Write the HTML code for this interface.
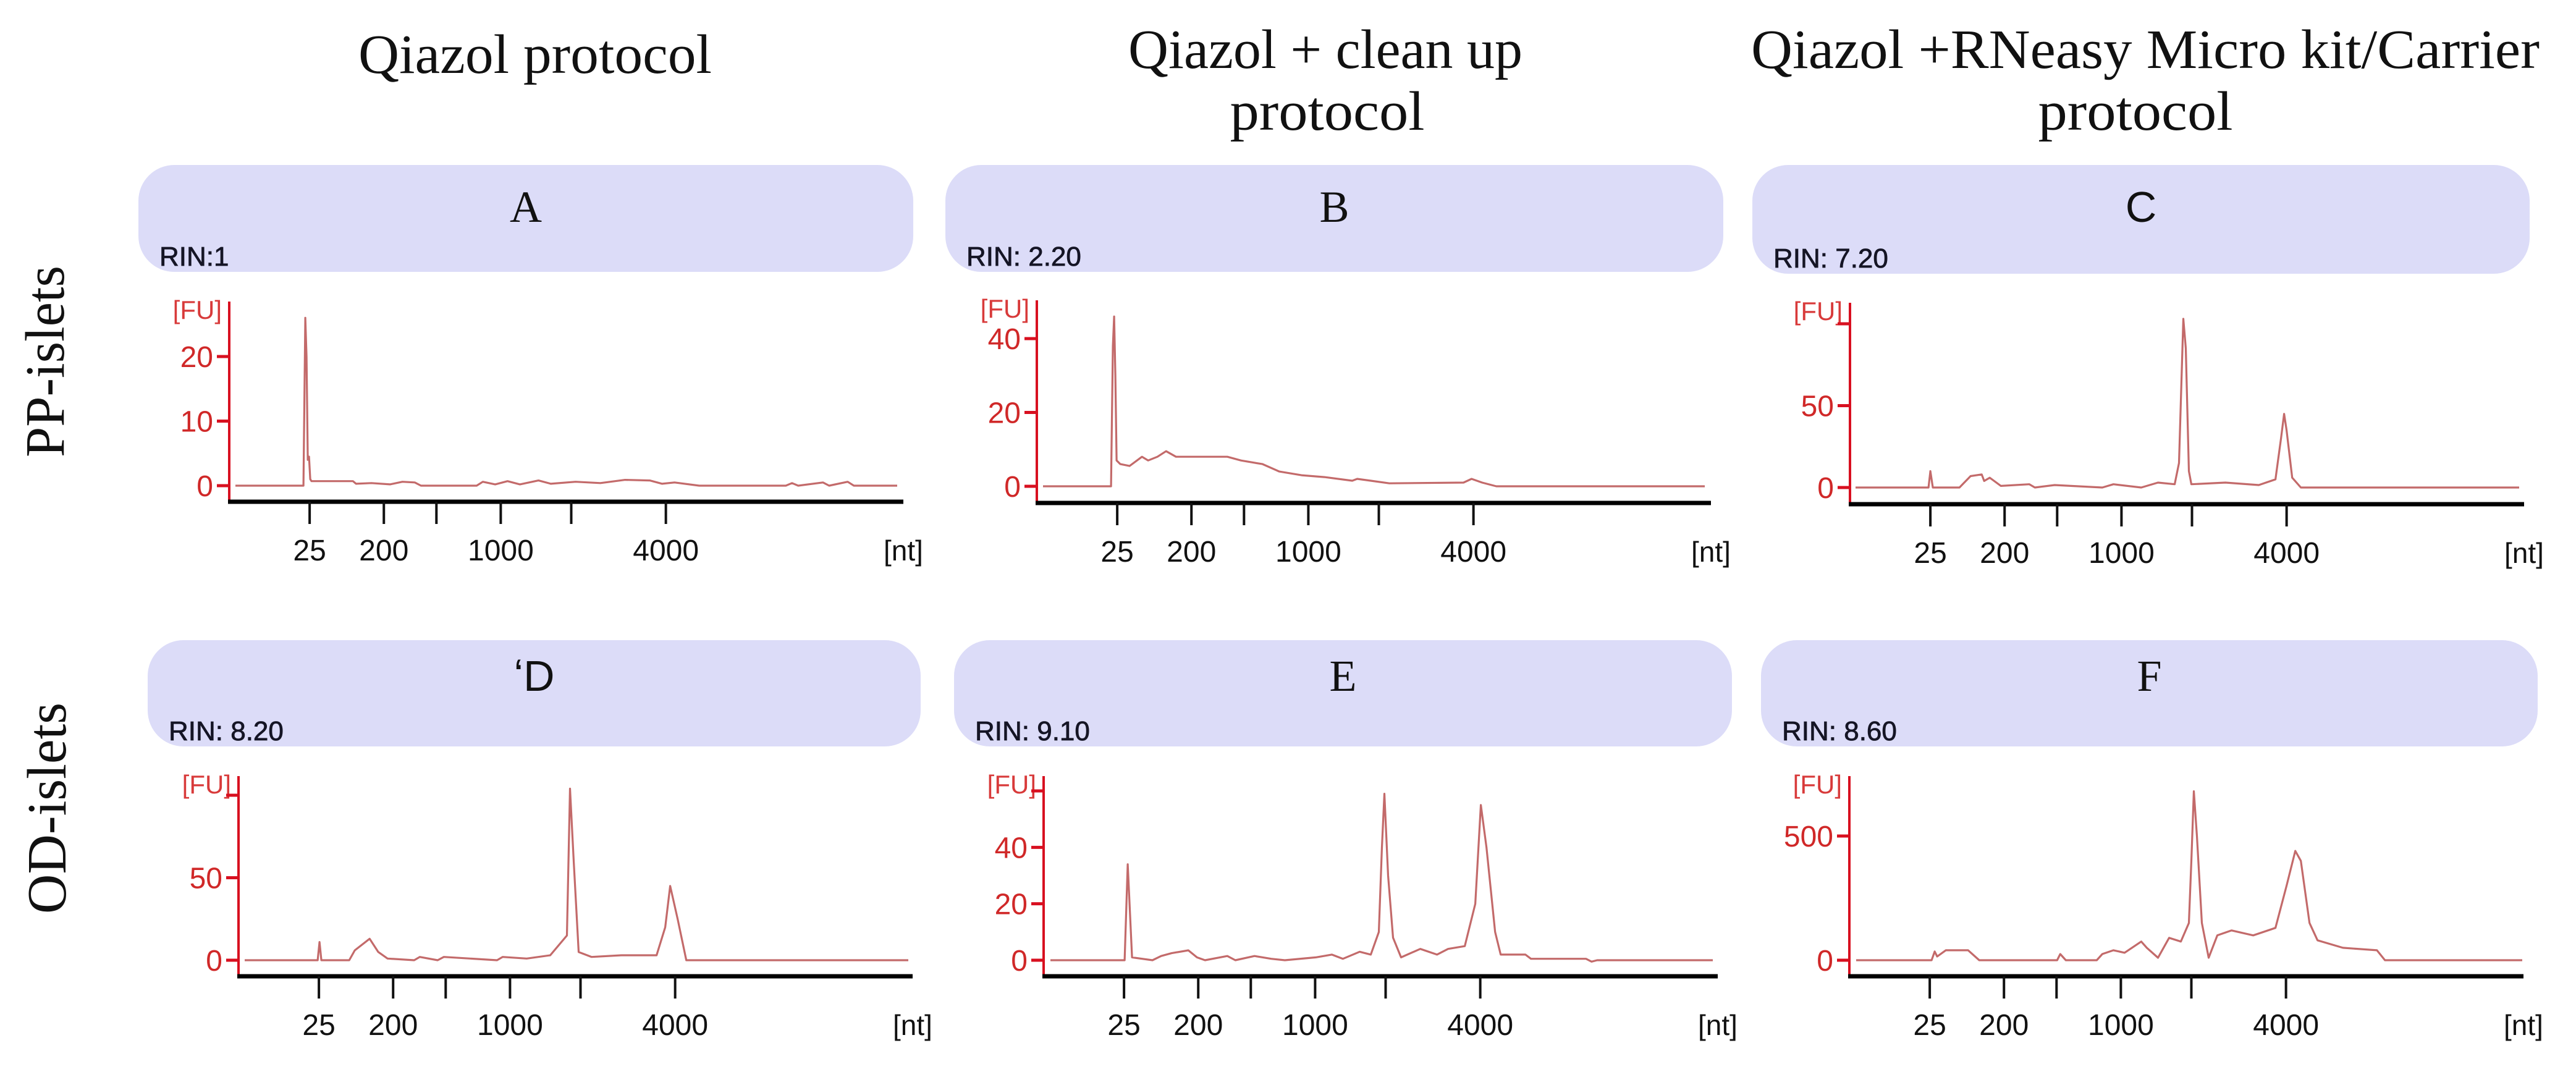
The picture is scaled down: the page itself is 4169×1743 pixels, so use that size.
<!DOCTYPE html>
<html><head><meta charset="utf-8"><style>
html,body{margin:0;padding:0;background:#fff;}
svg{display:block;}
</style></head><body>
<svg id="fig" width="4169" height="1743" viewBox="0 0 4169 1743" xmlns="http://www.w3.org/2000/svg">
<rect x="0" y="0" width="4169" height="1743" fill="#fff"/>
<g font-family="'Liberation Serif', serif" fill="#111">
<text x="866" y="118" font-size="90" text-anchor="middle" textLength="572" lengthAdjust="spacingAndGlyphs">Qiazol protocol</text>
<text x="2145" y="110" font-size="90" text-anchor="middle" textLength="638" lengthAdjust="spacingAndGlyphs">Qiazol + clean up</text>
<text x="2148" y="210" font-size="90" text-anchor="middle" textLength="315" lengthAdjust="spacingAndGlyphs">protocol</text>
<text x="3472" y="110" font-size="90" text-anchor="middle" textLength="1276" lengthAdjust="spacingAndGlyphs">Qiazol +RNeasy Micro kit/Carrier</text>
<text x="3456" y="210" font-size="90" text-anchor="middle" textLength="315" lengthAdjust="spacingAndGlyphs">protocol</text>
<text transform="translate(103,585) rotate(-90)" font-size="90" text-anchor="middle" textLength="310" lengthAdjust="spacingAndGlyphs">PP-islets</text>
<text transform="translate(106,1308) rotate(-90)" font-size="90" text-anchor="middle" textLength="342" lengthAdjust="spacingAndGlyphs">OD-islets</text>
</g>
<g id="panels"></g>
</svg>
<script>
// shared x-axis (ladder) data
const xTickNt = ['25','200','','1000','','4000'];
const xTickTime = [33, 45, 53.5, 63.9, 75.3, 90.6];
const xDomain = [20, 129];

// Panel A
const timesA = [21,32,32.3,32.5,32.7,32.9,33.1,33.3,40,40.5,43,46,48,50,51,60,61,63,65,67,70,72,76,80,84,88,90,92,96,110,111,112,116,117,120,121,128];
const fuA = [0,0,26,20,4,4.5,1,0.7,0.7,0.3,0.4,0.2,0.6,0.5,0,0,0.6,0.2,0.7,0.2,0.8,0.3,0.6,0.4,0.9,0.8,0.3,0.5,0,0,0.4,0,0.5,0,0.6,0,0];
const yTicksA = [0,10,20];
const yLabelsA = ['0','10','20'];
// Panel B
const timesB = [21,32,32.3,32.5,32.7,32.9,33.5,35,37,38,39.5,40.9,42.5,50.8,53,56.5,59.2,62.8,66.5,71,71.8,74,77,89,90.3,92,94.3,128];
const fuB = [0,0,38,46,30,7,6,5.5,8,7,8,9.5,8,8,7,6,4,3,2.5,1.5,2,1.5,0.8,1,2,1,0,0];
const yTicksB = [0,20,40];
const yLabelsB = ['0','20','40'];
// Panel C
const timesC = [20.9,32.7,33,33.4,37.7,39.5,41.3,41.7,42.6,44.4,49,49.9,53.1,60.8,62.6,67.1,69.8,72.5,73.2,73.9,74.3,74.8,75.2,80.7,86.1,88.8,89.7,90.2,90.6,91.5,92.9,128.2];
const fuC = [0,0,10,0,0,7,8,4,6,1,2,0,1.5,0,2,0,3,2,15,103,85,10,2,3,1.5,5,30,45,35,6,0,0];
const yTicksC = [0,50,100];
const yLabelsC = ['0','50',''];
// Panel D
const timesD = [21,32.8,33.1,33.4,37.9,38.8,41.2,42.6,44.1,48.4,49.3,52.2,53.2,61.8,62.7,66.6,70.4,73.1,73.6,74.2,75,77.1,81.9,87.6,89,89.8,91,92.4,128.3];
const fuD = [0,0,11,0,0,6,13,5,1,0,2,0,2,0,2,1,3,15,104,60,5,2,3,3,20,45,25,0,0];
const yTicksD = [0,50,100];
const yLabelsD = ['0','50',''];
// Panel E
const timesE = [21.1,33.1,33.6,34.3,37.6,39,40.7,43.4,44.8,46.1,49.7,51,54.1,56.8,59,64,66.6,68.4,71.1,72.9,74.2,74.7,75.1,75.7,76.5,77.8,80.9,83.6,85.4,88.1,89.8,90.7,91.6,93,93.9,97.9,98.8,107.7,108.6,109.5,128.2];
const fuE = [0,0,34,1,0,1.5,2.5,3.5,1,0,1.5,0,1.5,0.5,0,1,2,0.5,3,2,10,40,59,30,8,1,4,2,4,5,20,55,40,10,2,2,0.5,0.5,-0.5,0,0];
const yTicksE = [0,20,40,60];
const yLabelsE = ['0','20','40',''];
// Panel F
const timesF = [21.1,33.3,33.8,34.2,35.6,39.2,41,53.6,54.1,55,60,60.9,62.7,64.5,67.2,68.1,69.9,71.7,73.6,74.9,75.3,75.7,76.2,77,78.1,79.5,81.8,85.3,88.9,90.7,92.1,93,94.4,95.7,99.8,105.3,106.6,128.8];
const fuF = [0,0,35,15,40,40,0,0,25,0,0,25,40,30,75,50,10,90,75,150,400,680,500,150,10,100,120,100,130,300,440,400,150,80,50,40,0,0];
const yTicksF = [0,500];
const yLabelsF = ['0','500'];

const panelLetters = ['A','B','C',"\u02BBD",'E','F'];
const rinLabels = ['RIN:1','RIN: 2.20','RIN: 7.20','RIN: 8.20','RIN: 9.10','RIN: 8.60'];

// layout (not data)
const layout = [
 {id:'a', bx:224, bw:1254, by:267, bh:173, x0:371, zero:786, axisY:812, top:488, ref:577, t:timesA, v:fuA, yt:yTicksA, yl:yLabelsA, serif:true},
 {id:'b', bx:1530, bw:1259, by:267, bh:173, x0:1678, zero:787, axisY:814, top:486, ref:548, t:timesB, v:fuB, yt:yTicksB, yl:yLabelsB, serif:true},
 {id:'c', bx:2836, bw:1258, by:267, bh:176, x0:2994, zero:789, axisY:816, top:490, ref:524, t:timesC, v:fuC, yt:yTicksC, yl:yLabelsC, serif:false},
 {id:'d', bx:239, bw:1251, by:1036, bh:172, x0:386, zero:1554, axisY:1580, top:1256, ref:1287, t:timesD, v:fuD, yt:yTicksD, yl:yLabelsD, serif:false},
 {id:'e', bx:1544, bw:1259, by:1036, bh:172, x0:1689, zero:1554, axisY:1580, top:1256, ref:1280, t:timesE, v:fuE, yt:yTicksE, yl:yLabelsE, serif:true},
 {id:'f', bx:2850, bw:1257, by:1036, bh:172, x0:2993, zero:1554, axisY:1580, top:1256, ref:1353, t:timesF, v:fuF, yt:yTicksF, yl:yLabelsF, serif:true}
];
const NS='http://www.w3.org/2000/svg';
const root=document.getElementById('panels');
function mk(tag, attrs, parent){const e=document.createElementNS(NS,tag);for(const k in attrs)e.setAttribute(k,attrs[k]);parent.appendChild(e);return e;}
const AXW=1091;
layout.forEach((p,i)=>{
  const g=mk('g',{},root);
  
  
  const xs=t=>p.x0+(t-xDomain[0])/(xDomain[1]-xDomain[0])*AXW;
  const topVal=p.yt[p.yt.length-1];
  const ppu=(p.zero-p.ref)/topVal;
  const ys=v=>p.zero-v*ppu;
  const ban=mk('rect',{x:p.bx,y:p.by,width:p.bw,height:p.bh,rx:58,ry:58,fill:'#dcdcf8'},g);
  
  
  const lt=mk('text',{x:p.bx+p.bw/2,y:p.by+(p.by<900?92:82),'font-size':p.serif?72:70,'text-anchor':'middle',fill:'#111','font-family':p.serif?"'Liberation Serif', serif":"'Liberation Sans', sans-serif"},g);
  lt.textContent=panelLetters[i];
  
  
  const rt=mk('text',{x:p.bx+34,y:p.by+p.bh-10,'font-size':44,fill:'#151525','font-family':"'Liberation Sans', sans-serif",stroke:'#151525','stroke-width':0.8},g);
  rt.textContent=rinLabels[i];
  
  
  // y axis
  const ya=mk('line',{x1:p.x0,y1:p.top,x2:p.x0,y2:p.axisY,stroke:'#d81020','stroke-width':4},g);
  
  
  const fu=mk('text',{x:p.x0-12,y:p.top+28,'font-size':42,'text-anchor':'end',fill:'#d83a3a','font-family':"'Liberation Sans', sans-serif"},g);
  fu.textContent='[FU]';
  
  
  p.yt.forEach((v,k)=>{
    const tk=mk('line',{x1:p.x0-20,y1:ys(v),x2:p.x0,y2:ys(v),stroke:'#d81020','stroke-width':5},g);
    
    
    if(p.yl[k]){
      const tl=mk('text',{x:p.x0-26,y:ys(v)+17,'font-size':48,'text-anchor':'end',fill:'#d02828','font-family':"'Liberation Sans', sans-serif"},g);
      tl.textContent=p.yl[k];
      
      
    }
  });
  // x axis
  const xa=mk('line',{x1:p.x0-2,y1:p.axisY,x2:p.x0+AXW,y2:p.axisY,stroke:'#000','stroke-width':7},g);
  
  
  xTickTime.forEach((t,k)=>{
    const tk=mk('line',{x1:xs(t),y1:p.axisY,x2:xs(t),y2:p.axisY+36,stroke:'#111','stroke-width':4},g);
    
    
    if(xTickNt[k]){
      const tl=mk('text',{x:xs(t),y:p.axisY+95,'font-size':48,'text-anchor':'middle',fill:'#111','font-family':"'Liberation Sans', sans-serif"},g);
      tl.textContent=xTickNt[k];
      
      
    }
  });
  const nt=mk('text',{x:p.x0+AXW,y:p.axisY+95,'font-size':46,'text-anchor':'middle',fill:'#111','font-family':"'Liberation Sans', sans-serif"},g);
  nt.textContent='[nt]';
  
  
  // trace
  let d='';
  p.t.forEach((t,k)=>{d+=(k?'L':'M')+xs(t).toFixed(1)+','+ys(p.v[k]).toFixed(1);});
  const tr=mk('path',{d:d,fill:'none',stroke:'#b85050','stroke-width':3.2,'stroke-linejoin':'round','stroke-opacity':0.85},g);
  
  
});
</script>
</body></html>
